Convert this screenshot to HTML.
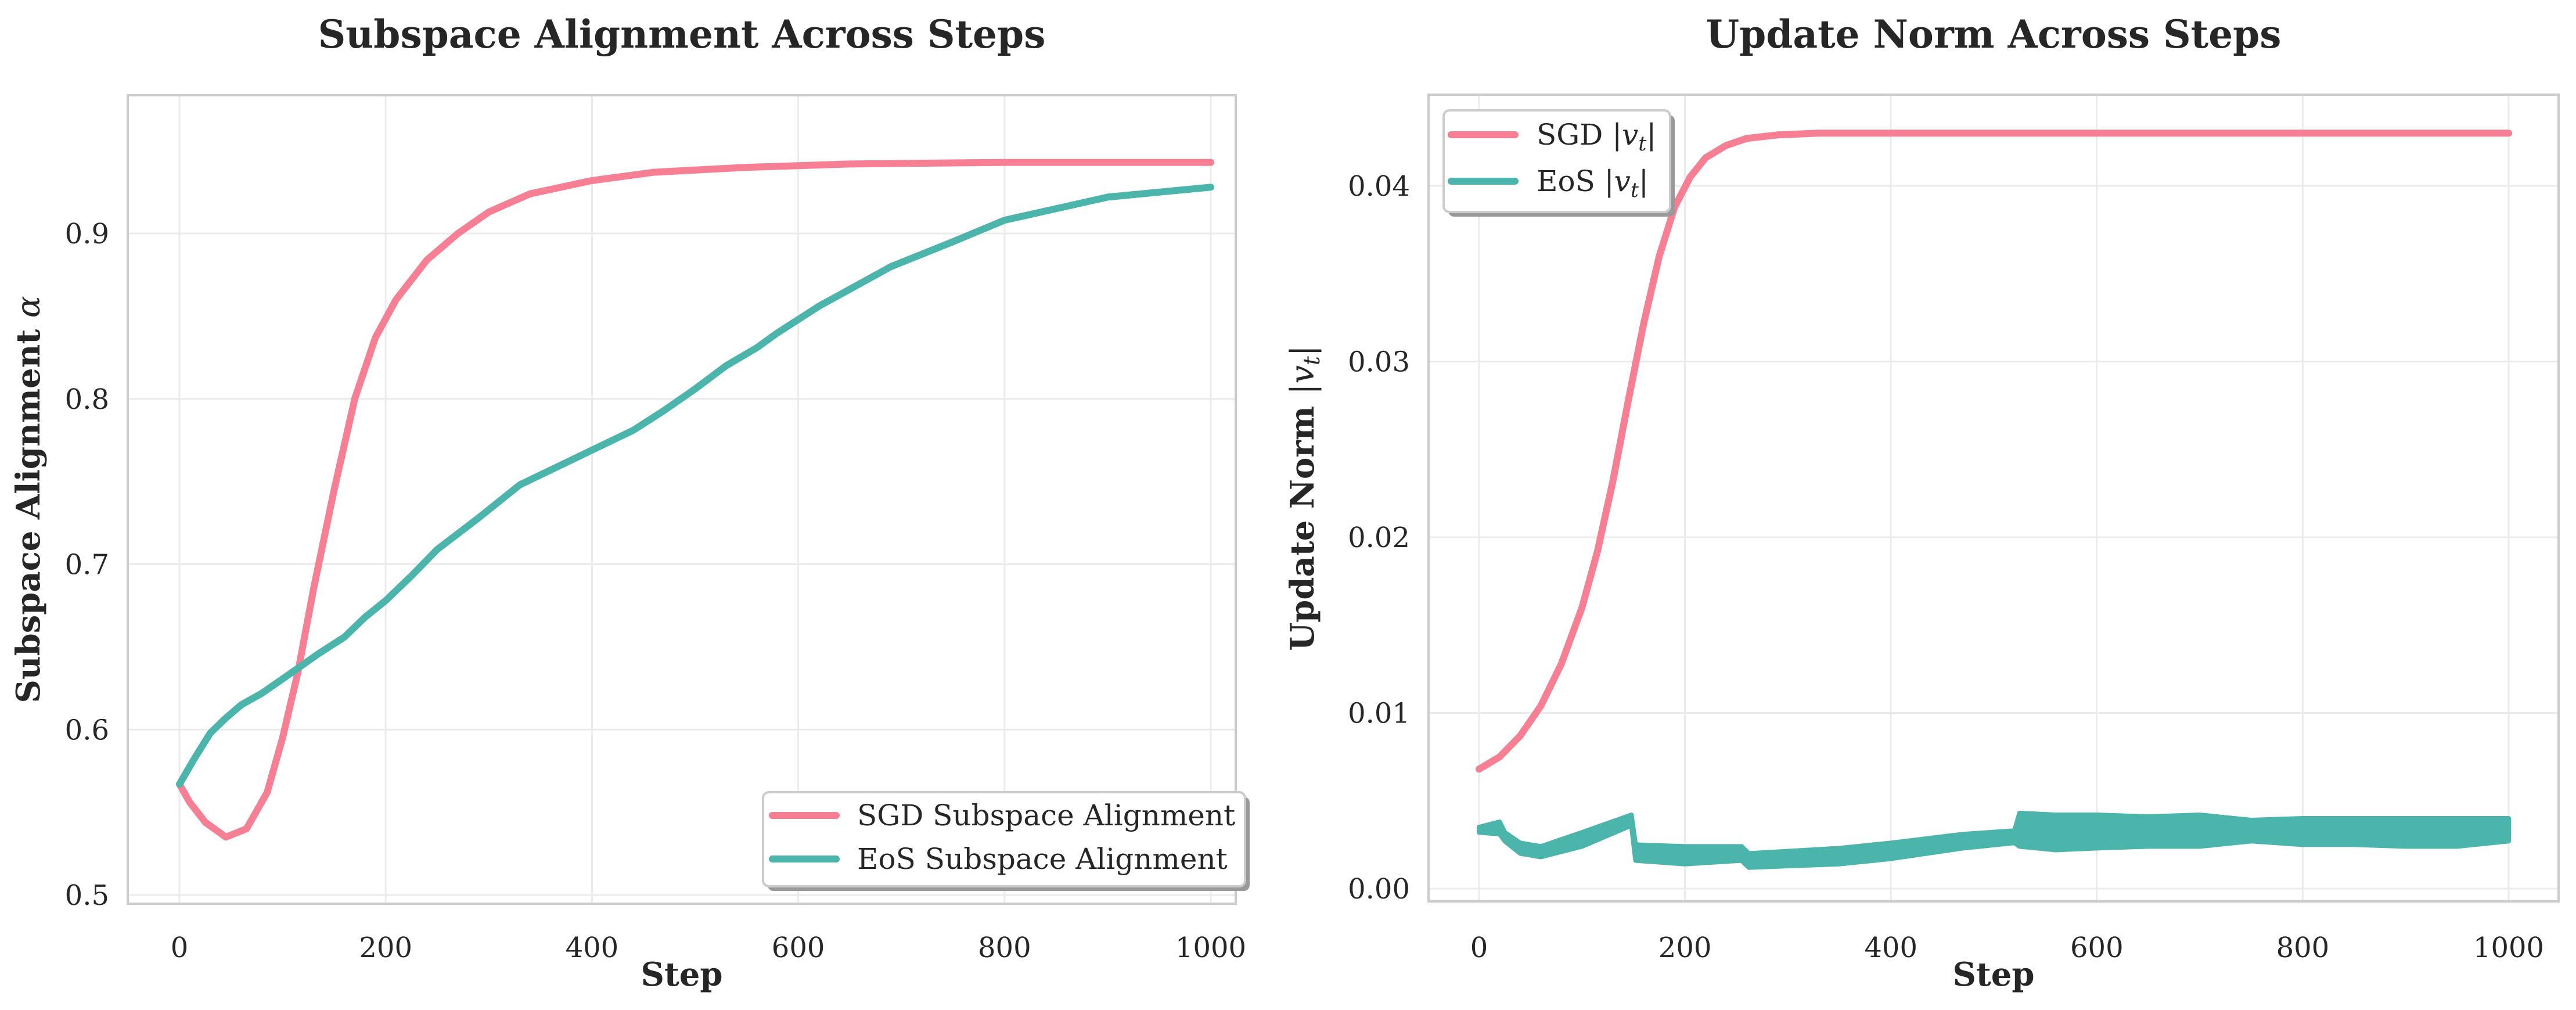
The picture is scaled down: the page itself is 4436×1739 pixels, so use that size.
<!DOCTYPE html>
<html><head><meta charset="utf-8"><style>
html,body{margin:0;padding:0;background:#fff;}
svg{display:block;font-family:"DejaVu Serif","Liberation Serif",serif;}
</style></head><body>
<svg id="chart" width="4436" height="1739" viewBox="0 0 4436 1739" xmlns="http://www.w3.org/2000/svg">
<g id="L"></g>
<g id="R"></g>
</svg>
<script>
const xTicks=[0,200,400,600,800,1000];
const leftYTicks=[0.5,0.6,0.7,0.8,0.9];
const leftYLabels=["0.5","0.6","0.7","0.8","0.9"];
const rightYTicks=[0,0.01,0.02,0.03,0.04];
const rightYLabels=["0.00","0.01","0.02","0.03","0.04"];
const sgdAlignSteps=[0,10,25,45,65,85,100,115,130,150,170,190,210,240,270,300,340,400,460,550,650,800,1000];
const sgdAlignVals=[0.567,0.556,0.544,0.535,0.540,0.562,0.595,0.635,0.685,0.745,0.800,0.837,0.860,0.884,0.900,0.913,0.924,0.932,0.937,0.940,0.942,0.943,0.943];
const eosAlignSteps=[0,15,30,45,60,80,110,135,160,180,200,225,250,290,330,360,400,440,470,500,530,560,580,620,690,750,800,850,900,950,1000];
const eosAlignVals=[0.567,0.583,0.598,0.607,0.615,0.622,0.635,0.646,0.656,0.668,0.678,0.693,0.709,0.728,0.748,0.757,0.769,0.781,0.793,0.806,0.820,0.831,0.840,0.856,0.880,0.895,0.908,0.915,0.922,0.925,0.928];
const sgdNormSteps=[0,20,40,60,80,100,115,130,145,160,175,190,205,220,240,260,290,330,400,600,800,1000];
const sgdNormVals=[0.0068,0.0075,0.0087,0.0104,0.0128,0.0160,0.0192,0.0232,0.0278,0.0322,0.0360,0.0388,0.0405,0.0416,0.0423,0.0427,0.0429,0.0430,0.0430,0.0430,0.0430,0.0430];
const eosNormSteps=[0,20,25,40,60,100,148,152,200,255,262,350,400,470,520,525,560,600,650,700,750,800,850,900,950,1000];
const eosNormUpper=[0.0035,0.0038,0.0032,0.0026,0.0024,0.0032,0.0042,0.0025,0.0024,0.0024,0.0020,0.0023,0.0026,0.0031,0.0033,0.0043,0.0042,0.0042,0.0041,0.0042,0.0039,0.0040,0.0040,0.0040,0.0040,0.0040];
const eosNormLower=[0.0032,0.0031,0.0027,0.0020,0.0018,0.0024,0.0036,0.0016,0.0014,0.0016,0.0012,0.0014,0.0017,0.0023,0.0026,0.0024,0.0022,0.0023,0.0024,0.0024,0.0027,0.0025,0.0025,0.0024,0.0024,0.0027];

const NS="http://www.w3.org/2000/svg";
function mk(tag,attrs,parent,text){const e=document.createElementNS(NS,tag);for(const k in attrs)e.setAttribute(k,attrs[k]);if(text!==undefined)e.textContent=text;parent.appendChild(e);return e;}
const PINK="#f77f94",TEAL="#4bb5ab";

function panel(g,cfg){
  const sx=v=>cfg.x0+(v-0)/(1000)*(cfg.x1-cfg.x0);
  const sy=v=>cfg.yA+(v-cfg.vA)/(cfg.vB-cfg.vA)*(cfg.yB-cfg.yA);
  xTicks.forEach(t=>{
    const l=mk('line',{x1:sx(t),x2:sx(t),y1:cfg.top,y2:cfg.bot,stroke:'#ebebeb','stroke-width':3},g);
    
    
    const tx=mk('text',{x:sx(t),y:1648,'font-size':48,'text-anchor':'middle',fill:'#262626'},g,String(t));
    
    
  });
  cfg.yt.forEach((t,i)=>{
    const l=mk('line',{x1:cfg.left,x2:cfg.right,y1:sy(t),y2:sy(t),stroke:'#ebebeb','stroke-width':3},g);
    
    
    const tx=mk('text',{x:cfg.left-32,y:sy(t)+17,'font-size':48,'text-anchor':'end',fill:'#262626'},g,cfg.yl[i]);
    
    
  });
  cfg.draw(g,sx,sy);
  const fr=mk('rect',{x:cfg.left,y:cfg.top,width:cfg.right-cfg.left,height:cfg.bot-cfg.top,fill:'none',stroke:'#cccccc','stroke-width':4},g);
  
  
  const ti=mk('text',{x:(cfg.left+cfg.right)/2,y:82,'font-size':66,'font-weight':'bold','text-anchor':'middle',fill:'#262626'},g,cfg.title);
  
  
  const xl=mk('text',{x:(cfg.left+cfg.right)/2,y:1697,'font-size':56,'font-weight':'bold','text-anchor':'middle',fill:'#262626'},g,'Step');
  
  
  const yl=mk('text',{x:0,y:0,'font-size':56,'font-weight':'bold','text-anchor':'middle',fill:'#262626',transform:`translate(${cfg.ylx},${(cfg.top+cfg.bot)/2}) rotate(-90)`},g);
  
  
  cfg.ylabel(yl);
  const L=cfg.leg;
  const lg=mk('g',{},g);
  
  
  mk('rect',{x:L.x+8,y:L.y+8,width:L.w,height:L.h,rx:10,fill:'#999'},lg);
  mk('rect',{x:L.x,y:L.y,width:L.w,height:L.h,rx:10,fill:'#fff',stroke:'#cccccc','stroke-width':4},lg);
  L.items.forEach((it,i)=>{
    const yy=L.y+L.dy0+i*L.dy;
    const e=mk('g',{},lg);
    
    
    mk('line',{x1:L.x+L.lx,x2:L.x+L.lx+110,y1:yy,y2:yy,stroke:it.c,'stroke-width':12,'stroke-linecap':'round'},e);
    const t=mk('text',{x:L.x+L.tx,y:yy+17,'font-size':50,fill:'#262626'},e);
    it.t(t);
  });
}
function path(g,sx,sy,xs,ys,c,name){
  const d=xs.map((s,i)=>(i?'L':'M')+sx(s).toFixed(1)+','+sy(ys[i]).toFixed(1)).join('');
  const p=mk('path',{d:d,fill:'none',stroke:c,'stroke-width':12,'stroke-linejoin':'round','stroke-linecap':'round'},g);
  
  
}
function vt(el){
  el.appendChild(document.createTextNode('|'));
  mk('tspan',{'font-style':'italic'},el,'v');
  mk('tspan',{'font-style':'italic','font-size':'0.7em',dy:10},el,'t');
  mk('tspan',{dy:-10},el,'|');
}
panel(document.getElementById('L'),{
  left:220,right:2128,top:164,bot:1556,x0:309,x1:2085,yA:1541,vA:0.5,yB:402,vB:0.9,
  yt:leftYTicks,yl:leftYLabels,title:'Subspace Alignment Across Steps',ylx:68,
  ylabel:el=>{el.appendChild(document.createTextNode('Subspace Alignment '));mk('tspan',{'font-style':'italic','font-weight':'normal'},el,'α');},
  draw:(g,sx,sy)=>{path(g,sx,sy,sgdAlignSteps,sgdAlignVals,PINK,'sgd-alignment-line');path(g,sx,sy,eosAlignSteps,eosAlignVals,TEAL,'eos-alignment-line');},
  leg:{x:1314,y:1364,w:830,h:162,dy0:40,dy:75,lx:16,tx:162,items:[
    {c:PINK,t:e=>e.textContent='SGD Subspace Alignment'},{c:TEAL,t:e=>e.textContent='EoS Subspace Alignment'}]}
});
panel(document.getElementById('R'),{
  left:2460,right:4406,top:163,bot:1552,x0:2547,x1:4320,yA:1530,vA:0,yB:320,vB:0.04,
  yt:rightYTicks,yl:rightYLabels,title:'Update Norm Across Steps',ylx:2262,
  ylabel:el=>{el.appendChild(document.createTextNode('Update Norm '));const s=mk('tspan',{'font-weight':'normal'},el);vt(s);},
  draw:(g,sx,sy)=>{
    path(g,sx,sy,sgdNormSteps,sgdNormVals,PINK,'sgd-norm-line');
    const up=eosNormSteps.map((s,i)=>sx(s).toFixed(1)+','+sy(eosNormUpper[i]).toFixed(1));
    const lo=eosNormSteps.map((s,i)=>sx(s).toFixed(1)+','+sy(eosNormLower[i]).toFixed(1)).reverse();
    const p=mk('polygon',{points:up.concat(lo).join(' '),fill:TEAL,stroke:TEAL,'stroke-width':8,'stroke-linejoin':'round'},g);
    
    
  },
  leg:{x:2486,y:190,w:390,h:175,dy0:42,dy:80,lx:13,tx:160,items:[
    {c:PINK,t:e=>{e.appendChild(document.createTextNode('SGD '));vt(e);}},{c:TEAL,t:e=>{e.appendChild(document.createTextNode('EoS '));vt(e);}}]}
});
</script>
</body></html>
